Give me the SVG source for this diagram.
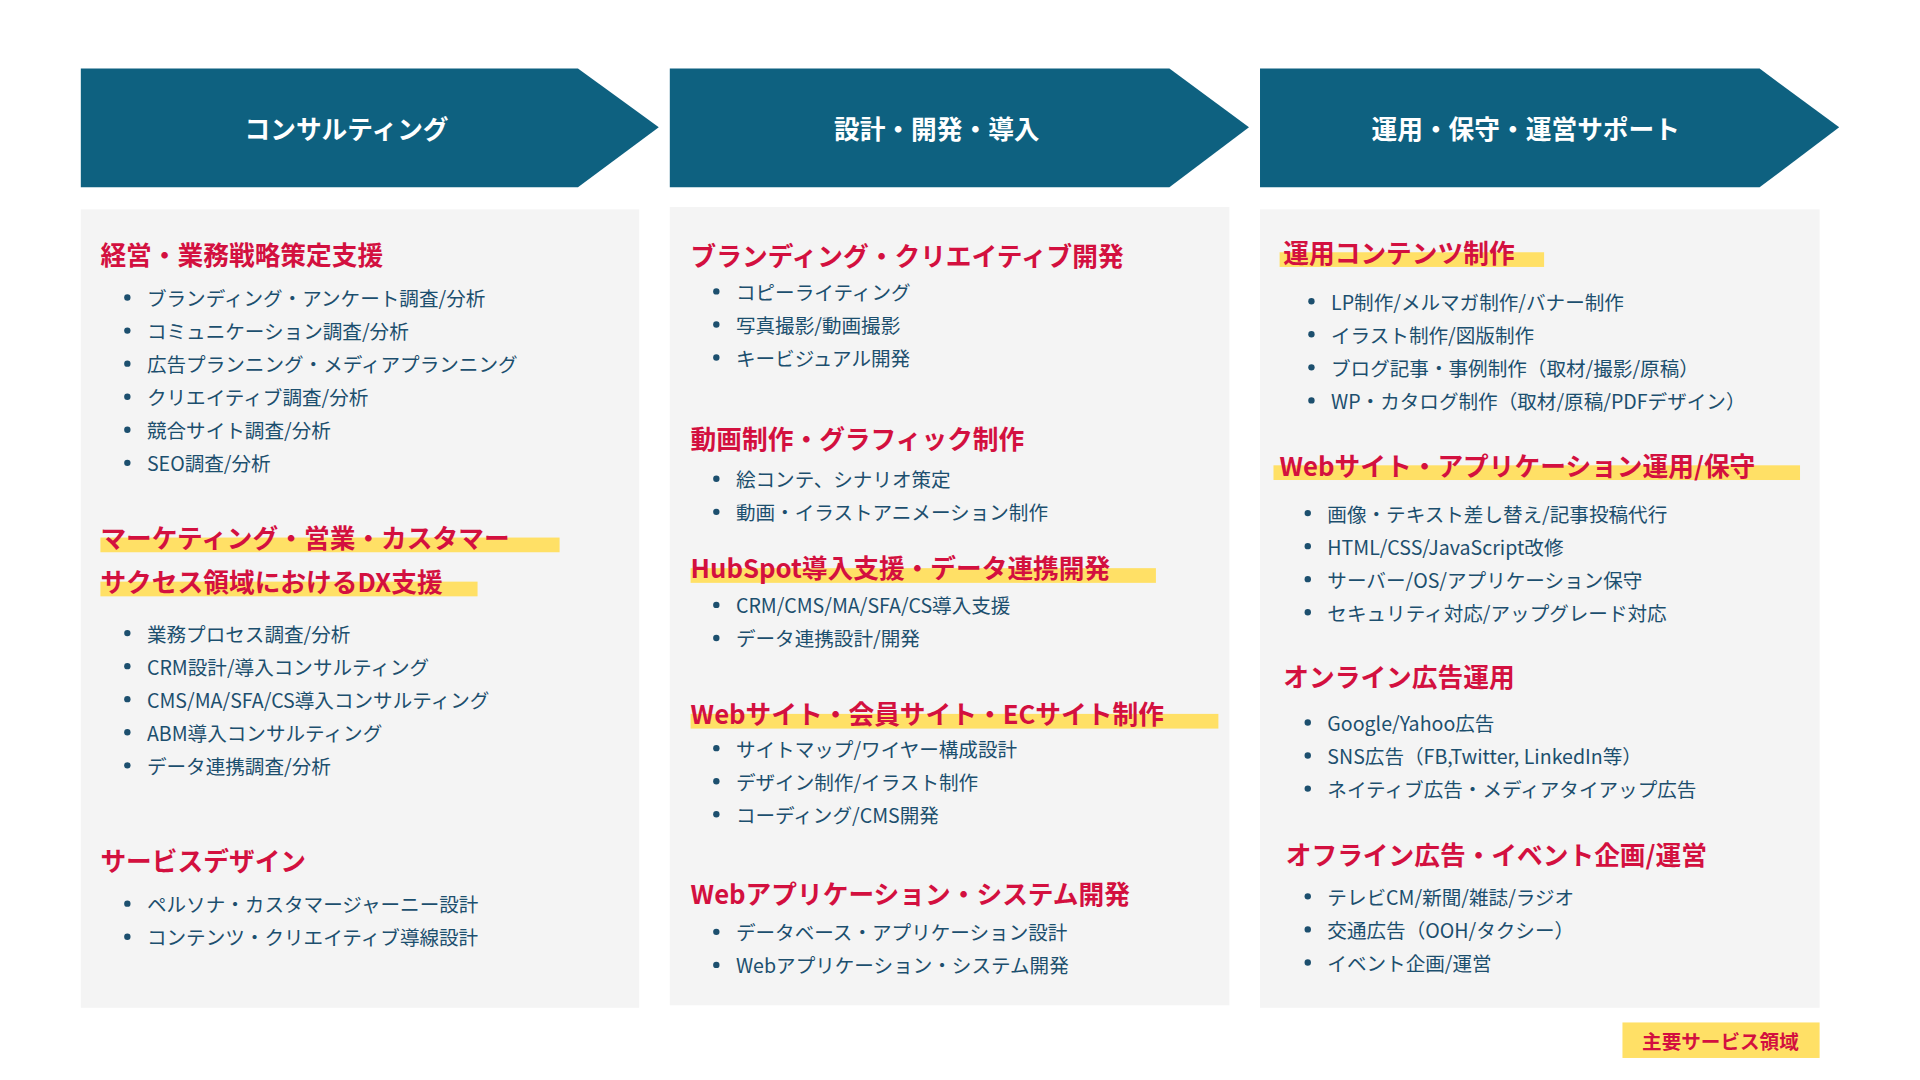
<svg xmlns="http://www.w3.org/2000/svg" width="1920" height="1080" viewBox="0 0 1920 1080">
<style>
.ch{fill:#0e6180}
.ct{fill:#fff;font:bold 21px "Noto Sans CJK JP",sans-serif;text-anchor:middle;dominant-baseline:central}
.pn{fill:#f4f4f4}
.h{fill:#d3103f;font:bold 21px "Noto Sans CJK JP",sans-serif;dominant-baseline:central}
.b{fill:#1c4f6e;font:16px "Noto Sans CJK JP",sans-serif;dominant-baseline:central}
.d{fill:#1c4f6e}
.hl{fill:#ffe066}
</style>
<rect width="1920" height="1080" fill="#fff"/>
<g transform="scale(1.2245)">
<g id="stage1"><polygon class="ch" points="66,56 472,56 538,104 472,153 66,153"/><text class="ct" x="283" y="104">コンサルティング</text></g>
<g id="stage2"><polygon class="ch" points="547,56 955,56 1020,104 955,153 547,153"/><text class="ct" x="765" y="104">設計・開発・導入</text></g>
<g id="stage3"><polygon class="ch" points="1029,56 1437,56 1502,104 1437,153 1029,153"/><text class="ct" x="1246" y="104">運用・保守・運営サポート</text></g>
<g id="connectors"></g>
<g id="panel1">
<rect class="pn" x="66" y="171" width="456" height="652"/>
<text class="h" x="82" y="207">経営・業務戦略策定支援</text>
<g class="d"><circle cx="104" cy="243" r="2.6"/><circle cx="104" cy="270" r="2.6"/><circle cx="104" cy="297" r="2.6"/><circle cx="104" cy="324" r="2.6"/><circle cx="104" cy="351" r="2.6"/><circle cx="104" cy="378" r="2.6"/></g>
<text class="b" x="120" y="243">ブランディング・アンケート調査/分析</text>
<text class="b" x="120" y="270">コミュニケーション調査/分析</text>
<text class="b" x="120" y="297">広告プランニング・メディアプランニング</text>
<text class="b" x="120" y="324">クリエイティブ調査/分析</text>
<text class="b" x="120" y="351">競合サイト調査/分析</text>
<text class="b" x="120" y="378">SEO調査/分析</text>
<rect class="hl" x="82" y="439" width="375" height="12"/>
<rect class="hl" x="82" y="475" width="308" height="12"/>
<text class="h" x="82" y="438">マーケティング・営業・カスタマー</text>
<text class="h" x="82" y="474">サクセス領域におけるDX支援</text>
<g class="d"><circle cx="104" cy="517" r="2.6"/><circle cx="104" cy="544" r="2.6"/><circle cx="104" cy="571" r="2.6"/><circle cx="104" cy="598" r="2.6"/><circle cx="104" cy="625" r="2.6"/></g>
<text class="b" x="120" y="517">業務プロセス調査/分析</text>
<text class="b" x="120" y="544">CRM設計/導入コンサルティング</text>
<text class="b" x="120" y="571">CMS/MA/SFA/CS導入コンサルティング</text>
<text class="b" x="120" y="598">ABM導入コンサルティング</text>
<text class="b" x="120" y="625">データ連携調査/分析</text>
<text class="h" x="82" y="702">サービスデザイン</text>
<g class="d"><circle cx="104" cy="738" r="2.6"/><circle cx="104" cy="765" r="2.6"/></g>
<text class="b" x="120" y="738">ペルソナ・カスタマージャーニー設計</text>
<text class="b" x="120" y="765">コンテンツ・クリエイティブ導線設計</text>
</g>
<g id="panel2">
<rect class="pn" x="547" y="169" width="457" height="652"/>
<text class="h" x="564" y="208">ブランディング・クリエイティブ開発</text>
<g class="d"><circle cx="585" cy="238" r="2.6"/><circle cx="585" cy="265" r="2.6"/><circle cx="585" cy="292" r="2.6"/><circle cx="585" cy="391" r="2.6"/><circle cx="585" cy="418" r="2.6"/><circle cx="585" cy="494" r="2.6"/><circle cx="585" cy="521" r="2.6"/><circle cx="585" cy="611" r="2.6"/><circle cx="585" cy="638" r="2.6"/><circle cx="585" cy="665" r="2.6"/><circle cx="585" cy="761" r="2.6"/><circle cx="585" cy="788" r="2.6"/></g>
<text class="b" x="601" y="238">コピーライティング</text>
<text class="b" x="601" y="265">写真撮影/動画撮影</text>
<text class="b" x="601" y="292">キービジュアル開発</text>
<text class="h" x="564" y="357">動画制作・グラフィック制作</text>
<text class="b" x="601" y="391">絵コンテ、シナリオ策定</text>
<text class="b" x="601" y="418">動画・イラストアニメーション制作</text>
<rect class="hl" x="564" y="464" width="380" height="12"/>
<text class="h" x="564" y="463">HubSpot導入支援・データ連携開発</text>
<text class="b" x="601" y="494">CRM/CMS/MA/SFA/CS導入支援</text>
<text class="b" x="601" y="521">データ連携設計/開発</text>
<rect class="hl" x="564" y="583" width="431" height="12"/>
<text class="h" x="564" y="582">Webサイト・会員サイト・ECサイト制作</text>
<text class="b" x="601" y="611">サイトマップ/ワイヤー構成設計</text>
<text class="b" x="601" y="638">デザイン制作/イラスト制作</text>
<text class="b" x="601" y="665">コーディング/CMS開発</text>
<text class="h" x="564" y="729">Webアプリケーション・システム開発</text>
<text class="b" x="601" y="761">データベース・アプリケーション設計</text>
<text class="b" x="601" y="788">Webアプリケーション・システム開発</text>
</g>
<g id="panel3">
<rect class="pn" x="1029" y="171" width="457" height="652"/>
<rect class="hl" x="1045" y="206" width="216" height="12"/>
<text class="h" x="1048" y="205">運用コンテンツ制作</text>
<g class="d"><circle cx="1071" cy="246" r="2.6"/><circle cx="1071" cy="273" r="2.6"/><circle cx="1071" cy="300" r="2.6"/><circle cx="1071" cy="327" r="2.6"/><circle cx="1068" cy="419" r="2.6"/><circle cx="1068" cy="446" r="2.6"/><circle cx="1068" cy="473" r="2.6"/><circle cx="1068" cy="500" r="2.6"/><circle cx="1068" cy="590" r="2.6"/><circle cx="1068" cy="617" r="2.6"/><circle cx="1068" cy="644" r="2.6"/><circle cx="1068" cy="732" r="2.6"/><circle cx="1068" cy="759" r="2.6"/><circle cx="1068" cy="786" r="2.6"/></g>
<text class="b" x="1087" y="246">LP制作/メルマガ制作/バナー制作</text>
<text class="b" x="1087" y="273">イラスト制作/図版制作</text>
<text class="b" x="1087" y="300">ブログ記事・事例制作（取材/撮影/原稿）</text>
<text class="b" x="1087" y="327">WP・カタログ制作（取材/原稿/PDFデザイン）</text>
<rect class="hl" x="1040" y="380" width="430" height="12"/>
<text class="h" x="1045" y="379">Webサイト・アプリケーション運用/保守</text>
<text class="b" x="1084" y="419">画像・テキスト差し替え/記事投稿代行</text>
<text class="b" x="1084" y="446">HTML/CSS/JavaScript改修</text>
<text class="b" x="1084" y="473">サーバー/OS/アプリケーション保守</text>
<text class="b" x="1084" y="500">セキュリティ対応/アップグレード対応</text>
<text class="h" x="1048" y="552">オンライン広告運用</text>
<text class="b" x="1084" y="590">Google/Yahoo広告</text>
<text class="b" x="1084" y="617">SNS広告（FB,Twitter, LinkedIn等）</text>
<text class="b" x="1084" y="644">ネイティブ広告・メディアタイアップ広告</text>
<text class="h" x="1050" y="697">オフライン広告・イベント企画/運営</text>
<text class="b" x="1084" y="732">テレビCM/新聞/雑誌/ラジオ</text>
<text class="b" x="1084" y="759">交通広告（OOH/タクシー）</text>
<text class="b" x="1084" y="786">イベント企画/運営</text>
</g>
<g id="legend">
<rect class="hl" x="1325" y="835" width="161" height="29"/>
<text class="h" x="1405" y="850" style="font-size:16px;text-anchor:middle">主要サービス領域</text>
</g>
</g>
</svg>
